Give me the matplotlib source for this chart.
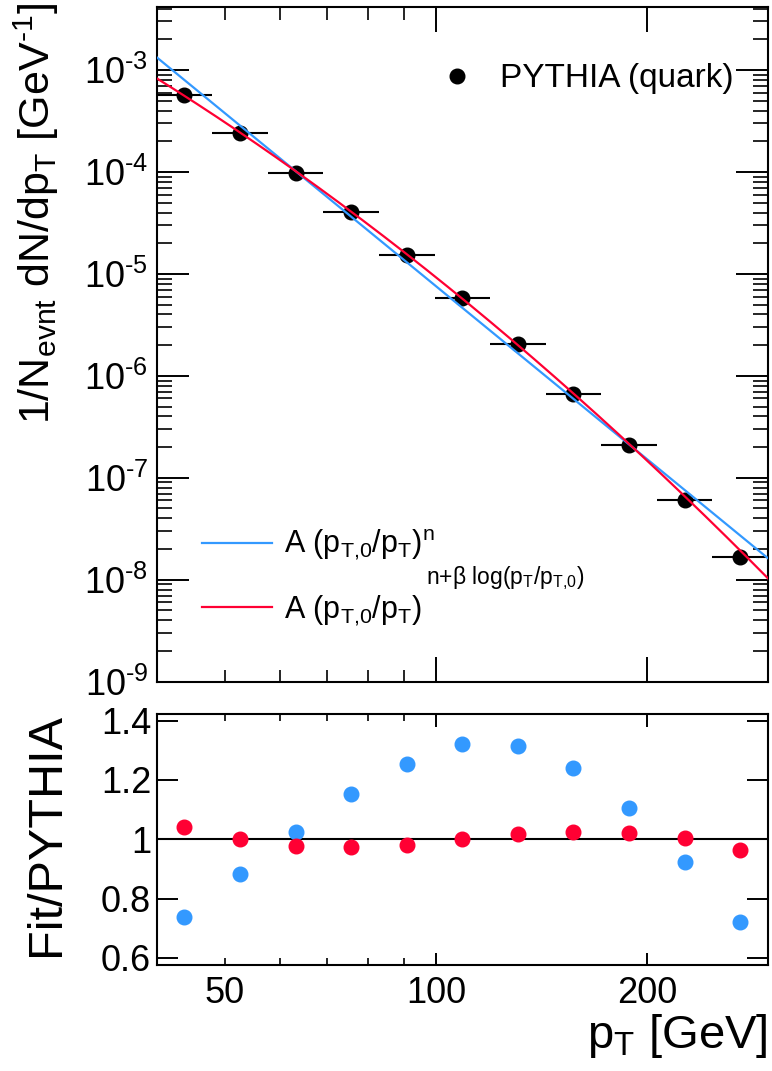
import numpy as np
import matplotlib
matplotlib.use("Agg")
import matplotlib.pyplot as plt
from matplotlib.lines import Line2D
from matplotlib.ticker import FixedLocator, FuncFormatter, LogLocator, NullFormatter

plt.rcParams["font.family"] = ["Liberation Sans", "DejaVu Sans"]
plt.rcParams["mathtext.fontset"] = "custom"
plt.rcParams["mathtext.rm"] = "Liberation Sans"
plt.rcParams["mathtext.it"] = "Liberation Sans:italic"
plt.rcParams["mathtext.bf"] = "Liberation Sans:bold"

# pT bins (GeV), log-spaced
bin_edges = [40.0, 48.0, 57.6, 69.12, 82.94, 99.53, 119.44, 143.33, 171.99, 206.39, 247.67, 297.2]
# PYTHIA quark-jet spectrum, 1/N dN/dpT [GeV^-1]
pythia_dndpt = [5.69e-4, 2.39e-4, 9.84e-5, 4.02e-5, 1.54e-5, 5.77e-6,
                2.03e-6, 6.64e-7, 2.10e-7, 6.10e-8, 1.66e-8]
# Fit/PYTHIA ratios
ratio_power = [0.737, 0.882, 1.023, 1.154, 1.254, 1.320, 1.316, 1.240, 1.105, 0.923, 0.721]
ratio_logpower = [1.042, 1.001, 0.979, 0.973, 0.980, 1.002, 1.019, 1.025, 1.022, 1.003, 0.964]

# fit parameters
pt0 = 40.0
A_power, n_power = 1.332e-3, 5.642
A_log, n_log, beta_log = 8.29e-4, 4.296, 0.666

BLUE = "#3399FF"
RED = "#FF0033"

edges = np.array(bin_edges)
centers = np.sqrt(edges[:-1] * edges[1:])
xerr = [centers - edges[:-1], edges[1:] - centers]

pt = np.geomspace(edges[0], edges[-1], 400)
fit_power = A_power * (pt0 / pt) ** n_power
fit_log = A_log * (pt0 / pt) ** (n_log + beta_log * np.log(pt / pt0))

W, H = 772, 1071
fig = plt.figure(figsize=(W / 100, H / 100), dpi=100)
left, right = 156.7 / W, 768 / W
ax1 = fig.add_axes([left, (H - 681.7) / H, right - left, (681.7 - 7.3) / H])
ax2 = fig.add_axes([left, (H - 965) / H, right - left, (965 - 714) / H])

TICK_FS = 26
for ax in (ax1, ax2):
    for s in ax.spines.values():
        s.set_linewidth(1.5)
    ax.set_xscale("log")
    ax.set_xlim(edges[0], edges[-1])
    ax.xaxis.set_major_locator(FixedLocator([100, 200]))
    ax.xaxis.set_minor_locator(FixedLocator([50, 60, 70, 80, 90, 300]))

# ---- spectrum panel ----
ax1.plot(pt, fit_power, color=BLUE, lw=1.6, zorder=3)
ax1.plot(pt, fit_log, color=RED, lw=1.6, zorder=4)
ax1.errorbar(centers, pythia_dndpt, xerr=xerr, fmt="o", color="black", ms=10.5,
             elinewidth=1.5, capsize=0, zorder=2)
ax1.set_yscale("log")
ax1.set_ylim(1e-9, 4.12e-3)
ax1.yaxis.set_major_locator(LogLocator(base=10, numticks=20))
ax1.yaxis.set_minor_locator(LogLocator(base=10, subs=np.arange(2, 10), numticks=20))
ax1.yaxis.set_major_formatter(FuncFormatter(
    lambda v, p: r"$\mathregular{10^{\text{-}%d}}$" % abs(round(np.log10(v)))))
ax1.yaxis.set_minor_formatter(NullFormatter())
ax1.xaxis.set_major_formatter(NullFormatter())
ax1.xaxis.set_minor_formatter(NullFormatter())
ax1.tick_params(axis="y", which="major", direction="in", length=23, width=1.4,
                left=True, right=True, labelsize=TICK_FS, pad=6)
ax1.tick_params(axis="y", which="minor", direction="in", length=11, width=1.2, left=True, right=True)
ax1.tick_params(axis="x", which="major", direction="in", length=18, width=1.4, top=True, bottom=True)
ax1.tick_params(axis="x", which="minor", direction="in", length=9, width=1.2, top=True, bottom=True)

ax1.set_ylabel(r"1/N$_{\mathregular{evnt}}$ dN/dp$_{\mathregular{T}}$ [GeV$^{\mathregular{\text{-}1}}$]",
               fontsize=31, loc="top")
ax1.yaxis.set_label_coords(-0.156, 1.006)

leg1 = ax1.legend(handles=[Line2D([], [], ls="none", marker="o", color="black", ms=10.5)],
                  labels=["PYTHIA (quark)"], loc="center left", frameon=False,
                  bbox_to_anchor=(0.464, 0.894), fontsize=24, handlelength=1.0,
                  handletextpad=0.8, borderpad=0, borderaxespad=0)
ax1.add_artist(leg1)
leg2 = ax1.legend(handles=[Line2D([], [], color=BLUE, lw=1.6), Line2D([], [], color=RED, lw=1.6)],
                  labels=[r"A (p$_{\mathregular{T{,}0}}$/p$_{\mathregular{T}}$)$^{\mathregular{n}}$",
                          r"A (p$_{\mathregular{T{,}0}}$/p$_{\mathregular{T}}$)"],
                  loc="lower left", frameon=False, bbox_to_anchor=(0.0736, 0.08), fontsize=22,
                  handlelength=2.3, handletextpad=0.4, labelspacing=1.0,
                  borderpad=0, borderaxespad=0)
# exponent of the log-corrected power law, raised above the second entry
ax1.annotate(r"n+β log(p$_{\mathregular{T}}$/p$_{\mathregular{T{,}0}}$)",
             xy=(1.0, 0.0), xycoords=leg2.get_texts()[1], xytext=(4, 44),
             textcoords="offset pixels", ha="left", va="baseline", fontsize=16.5, zorder=6)

# ---- ratio panel ----
ax2.axhline(1.0, color="black", lw=1.5, zorder=1)
ax2.plot(centers, ratio_power, "o", color=BLUE, ms=10.5, zorder=2)
ax2.plot(centers, ratio_logpower, "o", color=RED, ms=10.5, zorder=3)
ax2.set_ylim(0.576, 1.4226)
ax2.yaxis.set_major_locator(FixedLocator([0.6, 0.8, 1.0, 1.2, 1.4]))
ax2.yaxis.set_major_formatter(FuncFormatter(lambda v, p: "%g" % round(v, 1)))
ax2.xaxis.set_major_formatter(FuncFormatter(lambda v, p: "%d" % v))
ax2.xaxis.set_minor_formatter(FuncFormatter(lambda v, p: "50" if abs(v - 50) < 1e-6 else ""))
ax2.tick_params(axis="y", which="major", direction="in", length=15, width=1.4,
                left=True, right=True, labelsize=TICK_FS, pad=4)
ax2.tick_params(axis="x", which="major", direction="in", length=9, width=1.4,
                top=True, bottom=True, labelsize=TICK_FS, pad=8)
ax2.tick_params(axis="x", which="minor", direction="in", length=5, width=1.2,
                top=True, bottom=True, labelsize=TICK_FS, pad=8)
ax2.set_ylabel("Fit/PYTHIA", fontsize=35, loc="top")
ax2.yaxis.set_label_coords(-0.143, 1.004)
ax2.set_xlabel(r"p$_{\mathregular{T}}$ [GeV]", fontsize=34, loc="right", labelpad=1)

fig.savefig("out.png", dpi=100)
